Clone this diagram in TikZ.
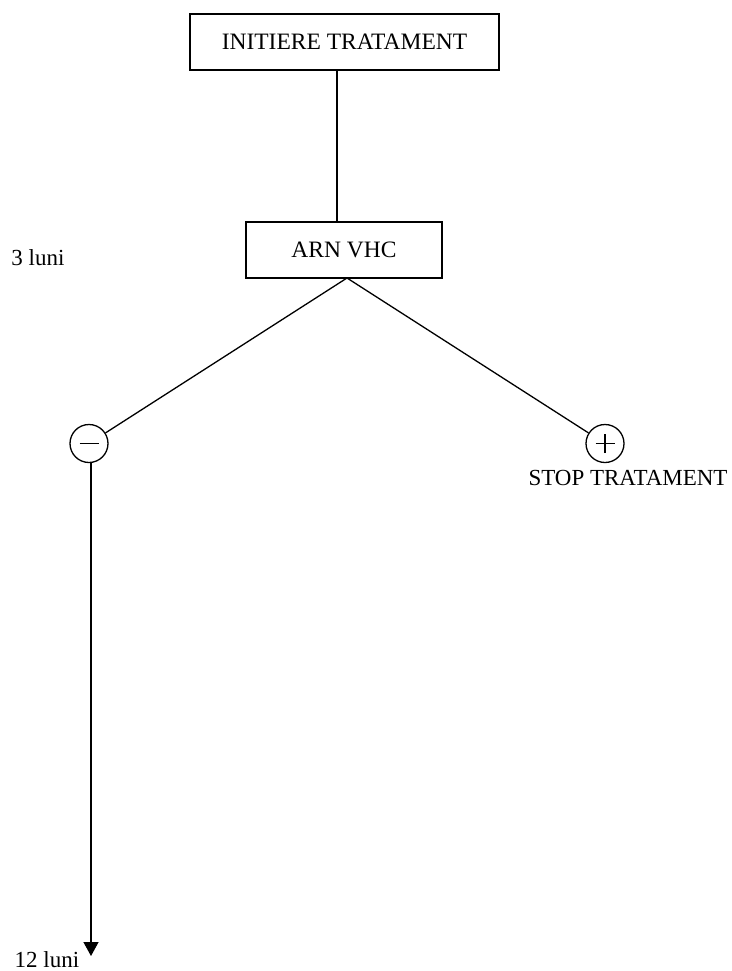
\documentclass[tikz,border=0pt]{standalone}
\usepackage{fontspec}
\setmainfont{Liberation Serif}
\usetikzlibrary{arrows.meta}
\begin{document}
\begin{tikzpicture}[x=1pt,y=-1pt,
  line width=1.3pt,
  boxnode/.style={draw,rectangle,inner sep=0pt,font=\fontsize{23.5}{27}\selectfont},
  lbl/.style={font=\fontsize{23}{27}\selectfont,inner sep=0pt},
  signcirc/.style={draw,circle,minimum size=38pt,inner sep=0pt},
  minussign/.style={signcirc,path picture={\draw[line width=1.3pt] ([xshift=-9.5pt]path picture bounding box.center) -- ([xshift=9.5pt]path picture bounding box.center);}},
  plussign/.style={signcirc,path picture={\draw[line width=1.3pt] ([xshift=-9.5pt]path picture bounding box.center) -- ([xshift=9.5pt]path picture bounding box.center);
     \draw[line width=1.3pt] ([yshift=-9.5pt]path picture bounding box.center) -- ([yshift=9.5pt]path picture bounding box.center);}}
]
\useasboundingbox (0,0) rectangle (731,971);
\node[boxnode,minimum width=309pt,minimum height=56pt] (init) at (344.5,42) {INITIERE TRATAMENT};
\node[boxnode,minimum width=196pt,minimum height=56pt] (arn) at (344,250) {ARN VHC};
\node[lbl] (l3) at (38,258) {3 luni};
\node[minussign] (neg) at (89,443.5) {};
\node[plussign] (pos) at (605,443.5) {};
\node[lbl] (stop) at (628,478) {STOP TRATAMENT};
\node[lbl,anchor=base] (l12) at (47,967) {12 luni};
\coordinate (apex) at (347,278);
\coordinate (tip) at (91,956);
\draw (init.south -| 337,0) -- (arn.north -| 337,0);
\draw (apex) -- (neg);
\draw (apex) -- (pos);
\draw[-{Triangle[length=14pt,width=15pt]}] (neg.south -| tip) -- (tip);
\end{tikzpicture}
\end{document}
